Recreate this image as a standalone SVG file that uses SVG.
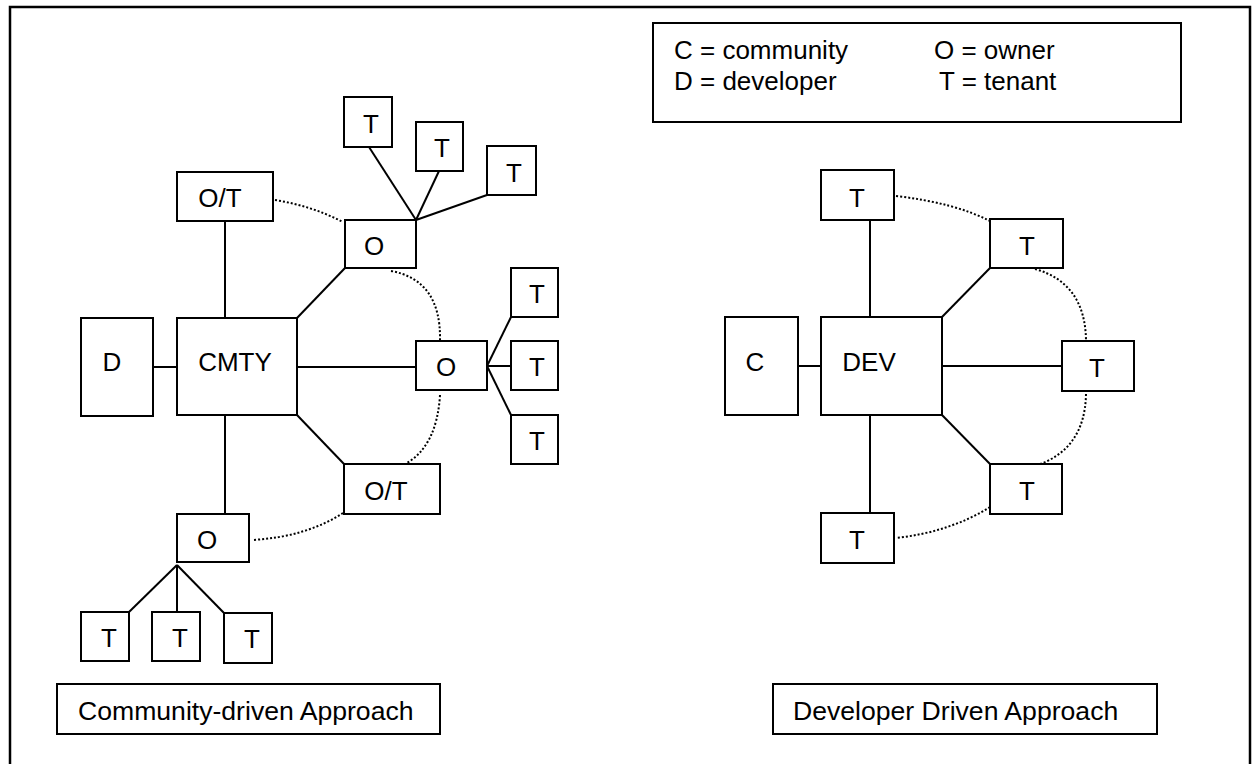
<svg xmlns="http://www.w3.org/2000/svg" width="1253" height="764" viewBox="0 0 1253 764">
<style>
.box{fill:#fff;stroke:#000;stroke-width:2}
.t{font-family:"Liberation Sans",Arial,sans-serif;font-size:26px;fill:#000;text-anchor:middle}
.tl{font-family:"Liberation Sans",Arial,sans-serif;font-size:26px;fill:#000}
.lbl{font-family:"Liberation Sans",Arial,sans-serif;font-size:26.6px;fill:#000}
.ln{stroke:#000;stroke-width:2;fill:none}
.dot{stroke:#000;stroke-width:2;fill:none;stroke-dasharray:2 2}
</style>
<rect x="0" y="0" width="1253" height="764" fill="#fff"/>
<rect x="10" y="7" width="1240" height="800" fill="none" stroke="#000" stroke-width="2.5"/>
<g id="connectors">
  <!-- left diagram solid -->
  <line class="ln" x1="225" y1="221" x2="225" y2="318"/>
  <line class="ln" x1="297" y1="318" x2="345" y2="268"/>
  <line class="ln" x1="297" y1="367" x2="416" y2="367"/>
  <line class="ln" x1="153" y1="367" x2="177" y2="367"/>
  <line class="ln" x1="297" y1="415" x2="344" y2="464"/>
  <line class="ln" x1="225" y1="415" x2="225" y2="514"/>
  <line class="ln" x1="416" y1="220" x2="369" y2="147"/>
  <line class="ln" x1="416" y1="220" x2="439" y2="171"/>
  <line class="ln" x1="416" y1="220" x2="487" y2="195"/>
  <line class="ln" x1="487" y1="366" x2="511" y2="317"/>
  <line class="ln" x1="487" y1="366" x2="511" y2="366"/>
  <line class="ln" x1="487" y1="366" x2="511" y2="415"/>
  <line class="ln" x1="177" y1="565" x2="129" y2="612"/>
  <line class="ln" x1="177" y1="565" x2="177" y2="612"/>
  <line class="ln" x1="177" y1="565" x2="224" y2="613"/>
  <!-- left diagram dotted -->
  <path class="dot" d="M275,200 Q312,206 343,222"/>
  <path class="dot" d="M391,271 Q441,280 440,340"/>
  <path class="dot" d="M440,395 Q437,445 407,463"/>
  <path class="dot" d="M343,513 Q306,537 252,540"/>
  <!-- right diagram solid -->
  <line class="ln" x1="870" y1="220" x2="870" y2="317"/>
  <line class="ln" x1="942" y1="317" x2="990" y2="268"/>
  <line class="ln" x1="942" y1="366" x2="1062" y2="366"/>
  <line class="ln" x1="798" y1="366" x2="821" y2="366"/>
  <line class="ln" x1="942" y1="415" x2="990" y2="464"/>
  <line class="ln" x1="870" y1="415" x2="870" y2="513"/>
  <!-- right diagram dotted -->
  <path class="dot" d="M896,196 Q955,203 990,221"/>
  <path class="dot" d="M1035,269 Q1085,283 1086,340"/>
  <path class="dot" d="M1086,394 Q1085,450 1035,466"/>
  <path class="dot" d="M990,507 Q950,532 896,538"/>
</g>
<g id="legend">
  <rect class="box" x="653" y="23" width="528" height="99"/>
  <text class="tl" x="674" y="59">C = community</text>
  <text class="tl" x="674" y="90">D = developer</text>
  <text class="tl" x="934" y="59">O = owner</text>
  <text class="tl" x="939" y="90">T = tenant</text>
</g>
<!-- left diagram nodes -->
<g id="ot-top"><rect class="box" x="177" y="172" width="96" height="49"/><text class="t" x="220" y="207">O/T</text></g>
<g id="t-l1"><rect class="box" x="344" y="97" width="48" height="50"/><text class="t" x="371" y="133">T</text></g>
<g id="t-l2"><rect class="box" x="416" y="122" width="47" height="49"/><text class="t" x="442" y="157">T</text></g>
<g id="t-l3"><rect class="box" x="487" y="146" width="49" height="49"/><text class="t" x="514" y="182">T</text></g>
<g id="o-top"><rect class="box" x="345" y="220" width="71" height="48"/><text class="t" x="374" y="255">O</text></g>
<g id="d"><rect class="box" x="81" y="318" width="72" height="98"/><text class="t" x="112" y="371">D</text></g>
<g id="cmty"><rect class="box" x="177" y="318" width="120" height="97"/><text class="t" x="235" y="371">CMTY</text></g>
<g id="o-right"><rect class="box" x="416" y="341" width="71" height="49"/><text class="t" x="446" y="376">O</text></g>
<g id="t-r1"><rect class="box" x="511" y="268" width="47" height="49"/><text class="t" x="537" y="303">T</text></g>
<g id="t-r2"><rect class="box" x="511" y="341" width="47" height="49"/><text class="t" x="537" y="376">T</text></g>
<g id="t-r3"><rect class="box" x="511" y="415" width="47" height="49"/><text class="t" x="537" y="450">T</text></g>
<g id="ot-bottom"><rect class="box" x="344" y="464" width="96" height="50"/><text class="t" x="386" y="500">O/T</text></g>
<g id="o-bottom"><rect class="box" x="177" y="514" width="72" height="48"/><text class="t" x="207" y="549">O</text></g>
<g id="t-b1"><rect class="box" x="81" y="612" width="48" height="49"/><text class="t" x="109" y="647">T</text></g>
<g id="t-b2"><rect class="box" x="152" y="612" width="48" height="49"/><text class="t" x="180" y="647">T</text></g>
<g id="t-b3"><rect class="box" x="224" y="613" width="48" height="50"/><text class="t" x="252" y="648">T</text></g>
<g id="label-community"><rect class="box" x="57" y="684" width="383" height="50"/><text class="lbl" x="78" y="720">Community-driven Approach</text></g>
<!-- right diagram nodes -->
<g id="t-top"><rect class="box" x="821" y="170" width="73" height="50"/><text class="t" x="857" y="207">T</text></g>
<g id="t-2"><rect class="box" x="990" y="219" width="73" height="49"/><text class="t" x="1027" y="255">T</text></g>
<g id="c"><rect class="box" x="725" y="317" width="73" height="98"/><text class="t" x="755" y="371">C</text></g>
<g id="dev"><rect class="box" x="821" y="317" width="121" height="98"/><text class="t" x="869" y="371">DEV</text></g>
<g id="t-right"><rect class="box" x="1062" y="341" width="72" height="50"/><text class="t" x="1097" y="377">T</text></g>
<g id="t-br"><rect class="box" x="990" y="464" width="72" height="50"/><text class="t" x="1027" y="500">T</text></g>
<g id="t-bottom"><rect class="box" x="821" y="513" width="73" height="50"/><text class="t" x="857" y="549">T</text></g>
<g id="label-developer"><rect class="box" x="773" y="684" width="384" height="50"/><text class="lbl" x="793" y="720">Developer Driven Approach</text></g>
</svg>
